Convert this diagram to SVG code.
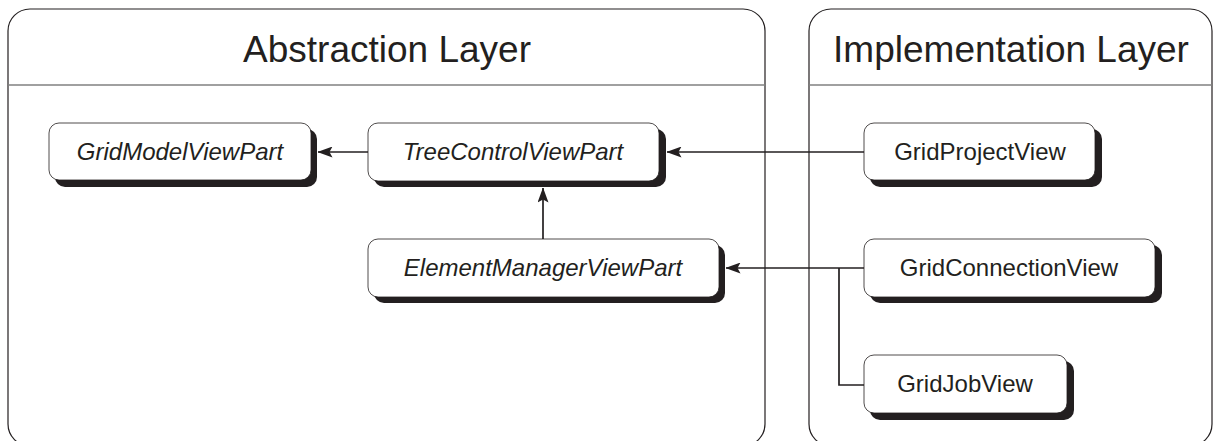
<svg xmlns="http://www.w3.org/2000/svg" width="1215" height="441" viewBox="0 0 1215 441">
<defs>
<style>
.layer{fill:#fff;stroke:#231f20;stroke-width:1.2}
.hdr{stroke:#808080;stroke-width:1.5}
.title{font-family:"Liberation Sans",Arial,sans-serif;font-size:37px;fill:#231f20;text-anchor:middle}
.shadow{fill:#231f20}
.box{fill:#fff;stroke:#231f20;stroke-width:0.8}
.lbl{font-family:"Liberation Sans",Arial,sans-serif;font-size:24px;fill:#231f20;text-anchor:middle}
.it{font-style:italic}
.conn{fill:none;stroke:#231f20;stroke-width:1.7}
</style>
<marker id="arr" viewBox="0 0 15 11" refX="14.5" refY="5.5" markerWidth="15" markerHeight="11" markerUnits="userSpaceOnUse" orient="auto">
<path d="M0,0 L15,5.5 L0,11 L3,5.5 Z" fill="#231f20"/>
</marker>
</defs>
<rect width="1215" height="441" fill="#fff"/>
<g id="abstraction-layer">
<rect class="layer" x="8" y="9" width="757" height="437" rx="22" ry="22"/>
<line class="hdr" x1="8" y1="85" x2="765" y2="85"/>
<text class="title" x="387" y="62">Abstraction Layer</text>
</g>
<g id="implementation-layer">
<rect class="layer" x="809" y="9" width="403" height="437" rx="22" ry="22"/>
<line class="hdr" x1="809" y1="85" x2="1212" y2="85"/>
<text class="title" x="1011" y="62">Implementation Layer</text>
</g>
<g id="connectors">
<line class="conn" x1="368" y1="152" x2="318" y2="152" marker-end="url(#arr)"/>
<line class="conn" x1="864" y1="152" x2="667" y2="152" marker-end="url(#arr)"/>
<line class="conn" x1="543" y1="239" x2="543" y2="188" marker-end="url(#arr)"/>
<line class="conn" x1="864" y1="268" x2="726" y2="268" marker-end="url(#arr)"/>
<polyline class="conn" points="864,385 839,385 839,268"/>
</g>
<g id="GridModelViewPart">
<rect class="shadow" x="55" y="129" width="262" height="58" rx="10"/>
<rect class="box" x="49" y="123" width="262" height="57" rx="10"/>
<text class="lbl it" x="180" y="160">GridModelViewPart</text>
</g>
<g id="TreeControlViewPart">
<rect class="shadow" x="374" y="129" width="292" height="58" rx="10"/>
<rect class="box" x="368" y="123" width="291" height="58" rx="10"/>
<text class="lbl it" x="513" y="160">TreeControlViewPart</text>
</g>
<g id="ElementManagerViewPart">
<rect class="shadow" x="374" y="245" width="351" height="58" rx="10"/>
<rect class="box" x="368" y="239" width="351" height="58" rx="10"/>
<text class="lbl it" x="543" y="276">ElementManagerViewPart</text>
</g>
<g id="GridProjectView">
<rect class="shadow" x="870" y="129" width="232" height="58" rx="10"/>
<rect class="box" x="864" y="123" width="231" height="57" rx="10"/>
<text class="lbl" x="980" y="160">GridProjectView</text>
</g>
<g id="GridConnectionView">
<rect class="shadow" x="870" y="245" width="292" height="58" rx="10"/>
<rect class="box" x="864" y="239" width="291" height="58" rx="10"/>
<text class="lbl" x="1009" y="276">GridConnectionView</text>
</g>
<g id="GridJobView">
<rect class="shadow" x="870" y="361" width="204" height="59" rx="10"/>
<rect class="box" x="864" y="355" width="203" height="58" rx="10"/>
<text class="lbl" x="965" y="392">GridJobView</text>
</g>
</svg>
